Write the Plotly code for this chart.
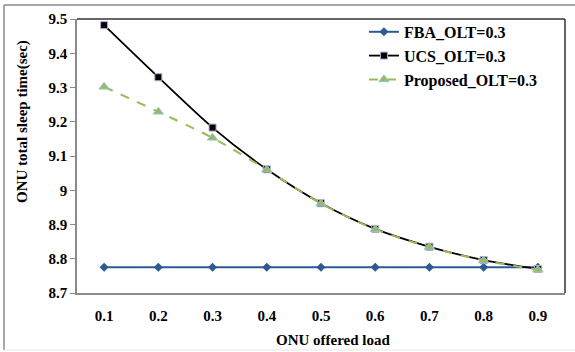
import plotly.graph_objects as go

# ONU offered load (category axis)
loads = ["0.1", "0.2", "0.3", "0.4", "0.5", "0.6", "0.7", "0.8", "0.9"]

# ONU total sleep time (sec) per scheme
fba = [8.775, 8.775, 8.775, 8.775, 8.775, 8.775, 8.775, 8.775, 8.775]
ucs = [9.482, 9.330, 9.183, 9.061, 8.962, 8.887, 8.835, 8.796, 8.770]
proposed = [9.302, 9.229, 9.153, 9.060, 8.961, 8.886, 8.834, 8.795, 8.768]

y_ticks = [8.7, 8.8, 8.9, 9.0, 9.1, 9.2, 9.3, 9.4, 9.5]
y_tick_text = ["8.7", "8.8", "8.9", "9", "9.1", "9.2", "9.3", "9.4", "9.5"]

FONT = "Liberation Serif"
FS = 15

fig = go.Figure()

fig.add_trace(go.Scatter(
    x=loads, y=fba, name="<b>FBA_OLT=0.3</b>", mode="lines+markers",
    line=dict(color="#2E5A94", width=2),
    marker=dict(symbol="diamond", size=7, color="#2E5A94"),
))
fig.add_trace(go.Scatter(
    x=loads, y=ucs, name="<b>UCS_OLT=0.3</b>", mode="lines+markers",
    line=dict(color="#000000", width=1.8, shape="spline", smoothing=0.8),
    marker=dict(symbol="square", size=7, color="#000000",
                line=dict(color="#B9A6D0", width=1)),
))
fig.add_trace(go.Scatter(
    x=loads, y=proposed, name="<b>Proposed_OLT=0.3</b>", mode="lines+markers",
    line=dict(color="#9BBB59", width=2, dash="dash", shape="spline", smoothing=0.8),
    marker=dict(symbol="triangle-up", size=9, color="#9BBB59",
                line=dict(color="#93C3DF", width=1)),
))

# plot-area border (top and right) and outer chart frame
fig.add_shape(type="line", xref="paper", yref="paper", x0=0, x1=1, y0=1, y1=1,
              line=dict(color="#333333", width=1.5))
fig.add_shape(type="line", xref="paper", yref="paper", x0=1, x1=1, y0=0, y1=1,
              line=dict(color="#333333", width=1.5))
fig.add_shape(type="line", xref="paper", yref="paper", x0=-0.1496, x1=1.03, y0=1.0511, y1=1.0511,
              line=dict(color="#8A8A8A", width=1.5))
fig.add_shape(type="line", xref="paper", yref="paper", x0=-0.1496, x1=-0.1496, y0=-0.208, y1=1.0511,
              line=dict(color="#8A8A8A", width=1.5))
fig.add_shape(type="line", xref="paper", yref="paper", x0=-0.1496, x1=1.03, y0=-0.208, y1=-0.208,
              line=dict(color="#E6E6E6", width=1))

fig.add_annotation(text="<b>ONU total sleep time(sec)</b>", textangle=-90,
                   xref="paper", yref="paper", x=(22 - 77) / 488, y=(293 - 122) / 274,
                   xanchor="center", yanchor="middle",
                   showarrow=False, font=dict(family=FONT, size=FS, color="#000000"))
fig.add_annotation(text="<b>ONU offered load</b>",
                   xref="paper", yref="paper", x=(333 - 77) / 488, y=-(340 - 293) / 274,
                   xanchor="center", yanchor="middle",
                   showarrow=False, font=dict(family=FONT, size=FS, color="#000000"))

fig.update_layout(
    width=575, height=352,
    margin=dict(l=77, r=10, t=19, b=59),
    paper_bgcolor="white", plot_bgcolor="white",
    font=dict(family=FONT, size=FS, color="#000000"),
    showlegend=True,
    legend=dict(x=0.588, y=1.015, xanchor="left", yanchor="top",
                bgcolor="rgba(0,0,0,0)", font=dict(family=FONT, size=16),
                tracegroupgap=0, itemwidth=30),
    xaxis=dict(type="category", range=[-0.5, 8.5], showgrid=False,
               showline=True, linecolor="#8A8A8A", linewidth=1.5,
               ticks="", tickfont=dict(family=FONT, size=FS),
               tickprefix="<b>", ticksuffix="</b>", ticklabelstandoff=8),
    yaxis=dict(range=[8.7, 9.5], showgrid=False, zeroline=False,
               showline=True, linecolor="#8A8A8A", linewidth=1.5,
               ticks="outside", ticklen=5, tickcolor="#8A8A8A",
               tickvals=y_ticks, ticktext=["<b>%s</b>" % t for t in y_tick_text],
               tickfont=dict(family=FONT, size=FS)),
)

fig.write_html("out.html")
